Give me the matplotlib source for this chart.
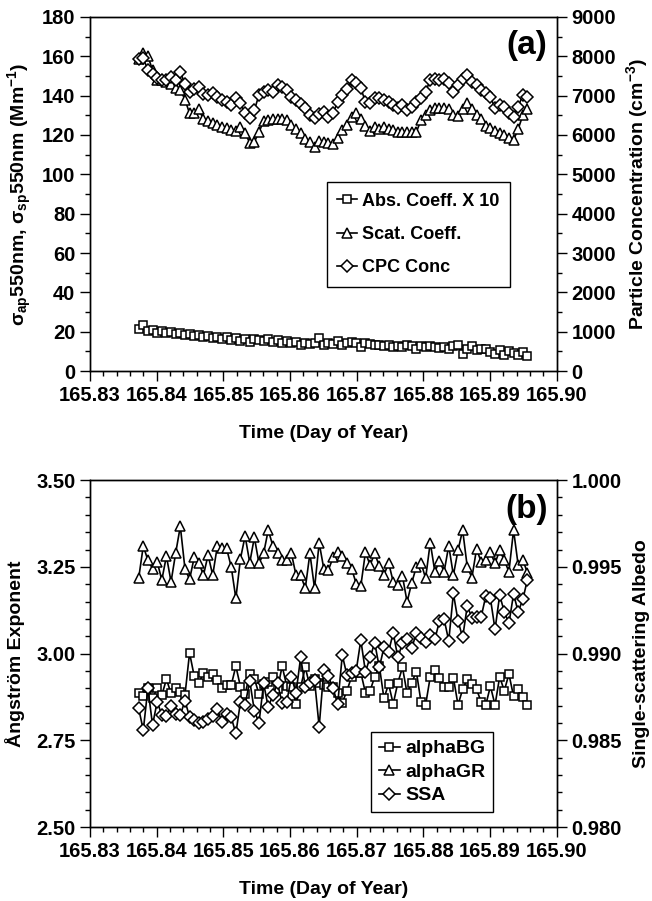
import numpy as np
import matplotlib.pyplot as plt
from matplotlib.ticker import MultipleLocator, FormatStrFormatter

plt.rcParams['font.family'] = ['Liberation Sans', 'DejaVu Sans']
plt.rcParams['font.weight'] = 'bold'
plt.rcParams['axes.labelweight'] = 'bold'
plt.rcParams['mathtext.fontset'] = 'custom'
plt.rcParams['mathtext.rm'] = 'Liberation Sans:bold'
plt.rcParams['mathtext.it'] = 'Liberation Sans'
plt.rcParams['mathtext.bf'] = 'Liberation Sans:bold'

# --- DATA (~1 min sampling) ---
t_start = 165.8373
t_step = 0.000694   # one minute in day-of-year units

abs_x10 = [21.5, 23.5, 20.5, 21.0, 19.5, 20.5, 19.5, 20.0, 19.0, 19.5,
           18.5, 19.0, 18.0, 18.5, 17.5, 18.0, 17.0, 17.5, 16.5, 17.5,
           16.0, 17.0, 15.5, 16.5, 15.0, 16.5, 16.0, 15.5, 16.5, 15.0,
           16.0, 14.5, 15.5, 14.5, 15.0, 13.2, 14.1, 13.7, 14.0, 16.6,
           13.2, 14.0, 13.5, 15.4, 13.2, 14.0, 14.9, 14.4, 12.0, 14.0,
           13.7, 13.0, 13.2, 12.5, 13.2, 12.3, 12.8, 12.3, 13.2, 12.5,
           11.0, 12.6, 12.2, 12.5, 12.2, 11.5, 12.0, 11.0, 12.5, 13.2,
           8.8, 11.0, 12.5, 10.7, 11.2, 11.0, 9.8, 8.6, 10.7, 8.1,
           10.3, 9.3, 8.1, 9.8, 7.6]

scat = [158.5, 161.8, 160, 153, 148, 148, 147, 146, 144, 143,
        138, 131, 131, 133, 128, 127, 126, 125, 124, 123.5,
        122.5, 122, 124, 121, 116, 116.5, 121.5, 127, 127.5, 128,
        128, 128, 127.5, 125, 123, 121, 118, 116.5, 114, 117,
        116.5, 116, 115.5, 118.5, 122.5, 125, 129, 131, 128, 124.5,
        122, 124, 123, 124, 123, 122.5, 121.5, 121.5, 121.5, 121.5,
        121.5, 127.5, 130, 132.5, 133.5, 133.5, 133.5, 133, 130, 129.5,
        133, 136, 133, 130, 128, 124.5, 123.5, 122, 121, 120,
        118.5, 117.5, 123, 130, 133]

cpc = [7925, 7950, 7650, 7550, 7450, 7400, 7400, 7475, 7400, 7600,
       7300, 7100, 7175, 7225, 7050, 7015, 7060, 6975, 6900, 6850,
       6760, 6930, 6800, 6550, 6420, 6635, 7015, 7100, 7150, 7100,
       7270, 7230, 7150, 6975, 6890, 6775, 6675, 6500, 6425, 6525,
       6575, 6450, 6550, 6850, 7015, 7175, 7400, 7325, 7185, 6845,
       6805, 6930, 6930, 6890, 6845, 6760, 6675, 6760, 6635, 6720,
       6845, 6930, 7100, 7395, 7415, 7395, 7435, 7310, 7100, 7270,
       7435, 7525, 7355, 7270, 7145, 7060, 6975, 6675, 6760, 6720,
       6550, 6465, 6720, 7015, 6975]

alpha_bg = [2.887, 2.878, 2.900, 2.871, 2.900, 2.880, 2.926, 2.885, 2.900, 2.890,
            2.880, 3.002, 2.935, 2.914, 2.945, 2.933, 2.941, 2.924, 2.900, 2.909,
            2.909, 2.964, 2.904, 2.883, 2.941, 2.928, 2.883, 2.912, 2.919, 2.933,
            2.897, 2.964, 2.906, 2.904, 2.856, 2.904, 2.960, 2.906, 2.928, 2.914,
            2.909, 2.904, 2.904, 2.887, 2.858, 2.893, 2.933, 2.945, 2.945, 2.887,
            2.893, 2.933, 2.964, 2.871, 2.912, 2.855, 2.916, 2.960, 2.885, 2.916,
            2.948, 2.861, 2.852, 2.933, 2.954, 2.931, 2.903, 2.903, 2.931, 2.852,
            2.897, 2.926, 2.912, 2.897, 2.861, 2.852, 2.906, 2.852, 2.933, 2.893,
            2.941, 2.877, 2.897, 2.876, 2.852]

alpha_gr = [3.217, 3.310, 3.269, 3.245, 3.265, 3.212, 3.281, 3.207, 3.290, 3.367,
            3.245, 3.214, 3.277, 3.262, 3.226, 3.284, 3.226, 3.310, 3.303, 3.303,
            3.250, 3.159, 3.274, 3.339, 3.262, 3.335, 3.260, 3.289, 3.356, 3.310,
            3.289, 3.269, 3.271, 3.289, 3.226, 3.226, 3.188, 3.289, 3.188, 3.319,
            3.245, 3.241, 3.277, 3.293, 3.281, 3.260, 3.245, 3.202, 3.195, 3.292,
            3.255, 3.289, 3.252, 3.226, 3.262, 3.207, 3.197, 3.223, 3.149, 3.204,
            3.250, 3.262, 3.217, 3.320, 3.236, 3.267, 3.236, 3.311, 3.226, 3.298,
            3.356, 3.250, 3.219, 3.301, 3.265, 3.269, 3.292, 3.260, 3.298, 3.269,
            3.236, 3.356, 3.255, 3.270, 3.233]

ssa = [0.98684, 0.98559, 0.98800, 0.98588, 0.98722, 0.98646, 0.98640, 0.98697, 0.98651, 0.98646,
       0.98728, 0.98636, 0.98617, 0.98598, 0.98607, 0.98621, 0.98640, 0.98678, 0.98607, 0.98651,
       0.98632, 0.98540, 0.98722, 0.98703, 0.98843, 0.98670, 0.98601, 0.98828, 0.98690, 0.98761,
       0.98828, 0.98716, 0.98722, 0.98866, 0.98774, 0.98978, 0.98809, 0.98828, 0.98847, 0.98578,
       0.98905, 0.98870, 0.98800, 0.98709, 0.98991, 0.98876, 0.98886, 0.98901, 0.99078, 0.98895,
       0.98978, 0.99062, 0.98920, 0.99036, 0.99011, 0.99120, 0.98978, 0.99059, 0.99082, 0.99030,
       0.99120, 0.99090, 0.99068, 0.99107, 0.99082, 0.99189, 0.99197, 0.99074, 0.99347, 0.99189,
       0.99093, 0.99274, 0.99208, 0.99212, 0.99212, 0.99331, 0.99318, 0.99139, 0.99337, 0.99241,
       0.99174, 0.99343, 0.99241, 0.99312, 0.99427]

time = t_start + np.arange(len(scat)) * t_step

# --- STYLE ---
FS = 14
TICK_FS = 14.5
mk = dict(color='black', lw=1.2, mfc='white', mec='black', mew=1.1)


def style_axis(ax):
    ax.tick_params(axis='both', which='major', direction='out', length=7, width=1, labelsize=TICK_FS)
    ax.tick_params(axis='both', which='minor', direction='out', length=3.5, width=1)
    ax.tick_params(axis='x', which='both', top=False)
    for sp in ax.spines.values():
        sp.set_linewidth(1.0)


def set_time_axis(ax):
    ax.set_xlim(165.83, 165.90)
    ax.xaxis.set_major_locator(MultipleLocator(0.01))
    ax.xaxis.set_minor_locator(MultipleLocator(0.002))
    ax.xaxis.set_major_formatter(FormatStrFormatter('%.2f'))
    ax.set_xlabel('Time (Day of Year)', fontsize=FS, labelpad=15)


fig = plt.figure(figsize=(6.52, 9.01), dpi=100)

# --- PANEL (a) ---
ax1 = fig.add_axes([0.138, 0.5882, 0.716, 0.393])
ax1r = ax1.twinx()
l1, = ax1.plot(time, abs_x10, marker='s', ms=6.3, label='Abs. Coeff. X 10', **mk)
l2, = ax1.plot(time, scat, marker='^', ms=7.8, label='Scat. Coeff.', **mk)
l3, = ax1r.plot(time, cpc, marker='D', ms=5.8, label='CPC Conc', **mk)

ax1.set_ylim(0, 180)
ax1.yaxis.set_major_locator(MultipleLocator(20))
ax1.yaxis.set_minor_locator(MultipleLocator(10))
ax1r.set_ylim(0, 9000)
ax1r.yaxis.set_major_locator(MultipleLocator(1000))
ax1r.yaxis.set_minor_locator(MultipleLocator(500))
set_time_axis(ax1)
style_axis(ax1)
style_axis(ax1r)
ax1.set_ylabel(r'$\sigma_{\rm ap}$550nm, $\sigma_{\rm sp}$550nm (Mm$^{-1}$)', fontsize=FS, labelpad=6)
ax1r.set_ylabel(r'Particle Concentration (cm$^{-3}$)', fontsize=FS, labelpad=6)
ax1.text(0.936, 0.918, '(a)', transform=ax1.transAxes, ha='center', va='center',
         fontsize=24, fontweight='bold')
leg = ax1r.legend(handles=[l1, l2, l3], loc='upper left', bbox_to_anchor=(0.507, 0.534),
                  fontsize=13, frameon=True, fancybox=False, edgecolor='black',
                  framealpha=1, handlelength=1.1, handletextpad=0.25,
                  labelspacing=0.9, borderpad=0.6, borderaxespad=0)
leg.get_frame().set_linewidth(1.0)

# --- PANEL (b) ---
ax2 = fig.add_axes([0.138, 0.0821, 0.716, 0.385])
ax2r = ax2.twinx()
m1, = ax2.plot(time, alpha_bg, marker='s', ms=6.3, label='alphaBG', **mk)
m2, = ax2.plot(time, alpha_gr, marker='^', ms=7.8, label='alphaGR', **mk)
m3, = ax2r.plot(time, ssa, marker='D', ms=5.8, label='SSA', **mk)

ax2.set_ylim(2.5, 3.5)
ax2.yaxis.set_major_locator(MultipleLocator(0.25))
ax2.yaxis.set_minor_locator(MultipleLocator(0.05))
ax2.yaxis.set_major_formatter(FormatStrFormatter('%.2f'))
ax2r.set_ylim(0.98, 1.0)
ax2r.yaxis.set_major_locator(MultipleLocator(0.005))
ax2r.yaxis.set_minor_locator(MultipleLocator(0.001))
ax2r.yaxis.set_major_formatter(FormatStrFormatter('%.3f'))
set_time_axis(ax2)
style_axis(ax2)
style_axis(ax2r)
ax2.set_ylabel('Ångström Exponent', fontsize=FS, labelpad=8)
ax2r.set_ylabel('Single-scattering Albedo', fontsize=FS, labelpad=8)
ax2.text(0.936, 0.916, '(b)', transform=ax2.transAxes, ha='center', va='center',
         fontsize=24, fontweight='bold')
leg2 = ax2r.legend(handles=[m1, m2, m3], loc='lower left', bbox_to_anchor=(0.602, 0.043),
                   fontsize=14, frameon=True, fancybox=False, edgecolor='black',
                   framealpha=1, handlelength=1.1, handletextpad=0.25,
                   labelspacing=0.3, borderpad=0.4, borderaxespad=0)
leg2.get_frame().set_linewidth(1.0)

fig.savefig('out.png', dpi=100)
